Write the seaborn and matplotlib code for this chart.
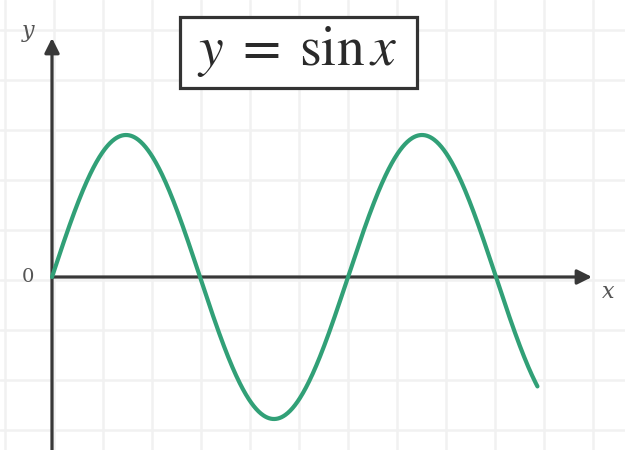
import numpy as np
import pandas as pd
import matplotlib
matplotlib.use("Agg")
import matplotlib.pyplot as plt
from matplotlib.patches import Rectangle
import seaborn as sns

# Curve domain (radians) and the texts drawn on the chart
x_start = 0.0
x_end = 3.28 * np.pi
title = r"$y\;=\;\sin x$"
x_label = "x"
y_label = "y"
origin_label = "0"

x = np.linspace(x_start, x_end, 800)
df = pd.DataFrame({"x": x, "y": np.sin(x)})

sns.set_theme(style="white")
plt.rcParams["mathtext.fontset"] = "stix"
plt.rcParams["font.family"] = ["DejaVu Serif"]

W, H = 625, 450
fig = plt.figure(figsize=(W / 100, H / 100), dpi=100)
ax = fig.add_axes([0, 0, 1, 1])

# scale: pi spans 148 px horizontally, one unit spans 142 px vertically
sx = 148 / np.pi
sy = 142.0
ox, oy = 52, 277


def px(xp, yp):
    """pixel position (from top-left) -> data coordinates"""
    return (xp - ox) / sx, (oy - yp) / sy


ax.set_xlim(px(0, 0)[0], px(W, 0)[0])
ax.set_ylim(px(0, H)[1], px(0, 0)[1])

# faint square grid of the graph paper
gx = [px(5 + 49 * k, 0)[0] for k in range(13)]
gy = [px(0, 30 + 50 * k)[1] for k in range(9)]
ax.set_xticks(gx)
ax.set_yticks(gy)
ax.tick_params(length=0, labelbottom=False, labelleft=False)
ax.grid(True, color="#f1f1f1", lw=1.8)
for s in ax.spines.values():
    s.set_visible(False)

axis_col = "#383838"
# x axis arrow
ax.annotate("", xy=px(592, 277), xytext=px(52, 277),
            arrowprops=dict(arrowstyle="-|>", lw=2.3, color=axis_col,
                            mutation_scale=22, shrinkA=0, shrinkB=0))
# y axis arrow
ax.annotate("", xy=px(52, 38), xytext=px(52, 452),
            arrowprops=dict(arrowstyle="-|>", lw=2.3, color=axis_col,
                            mutation_scale=22, shrinkA=0, shrinkB=0))

sns.lineplot(data=df, x="x", y="y", color="#31a077", lw=3.0, ax=ax,
             zorder=5, sort=False)
ax.set_xlabel("")
ax.set_ylabel("")

txt_col = "#555555"
ax.text(*px(28, 31), y_label, fontsize=16, style="italic", color=txt_col,
        ha="center", va="center")
ax.text(*px(608, 292), x_label, fontsize=16, style="italic", color=txt_col,
        ha="center", va="center")
ax.text(*px(28, 277), origin_label, fontsize=14, color=txt_col,
        ha="center", va="center")

# boxed title
x0, y0 = px(180, 88)
x1, y1 = px(417, 17)
ax.add_patch(Rectangle((x0, y0), x1 - x0, y1 - y0, fc="white",
                       ec="#333333", lw=2.3, zorder=6))
ax.text(*px(297, 52), title, fontsize=40, color="#2a2a2a",
        ha="center", va="center", zorder=7)

fig.savefig("out.png", dpi=100)
